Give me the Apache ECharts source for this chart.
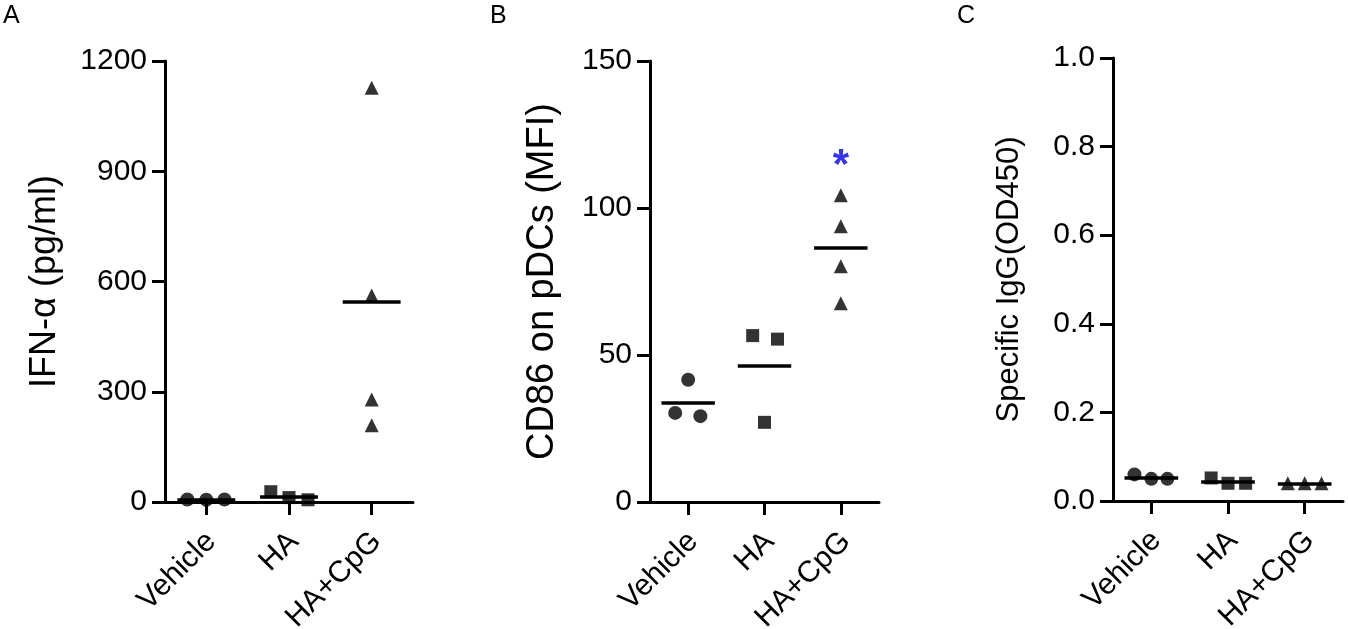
<!DOCTYPE html>
<html>
<head>
<meta charset="utf-8">
<script src="https://cdn.jsdelivr.net/npm/echarts@6/dist/echarts.min.js"></script>
<style>
html,body{margin:0;padding:0;background:#fff;}
#chart{width:1348px;height:629px;}
</style>
</head>
<body>
<div id="chart"></div>
<script>
// ---- data ----
const categories = ['Vehicle', 'HA', 'HA+CpG'];

// Panel A: IFN-alpha (pg/ml)
const ifnVehicle = [7, 6, 7];
const ifnHA = [28, 12, 6];
const ifnCpG = [1127, 562, 279, 209];
const ifnVehicleJitter = [-0.23, 0, 0.22];
const ifnHAJitter = [-0.22, 0, 0.23];
const ifnCpGJitter = [0, 0, 0, 0];
const ifnTicks = { min: 0, max: 1200, interval: 300 };

// Panel B: CD86 on pDCs (MFI)
const cd86Vehicle = [41.6, 30.3, 29.2];
const cd86HA = [56.6, 55.4, 27.1];
const cd86CpG = [104.3, 93.8, 80.2, 67.6];
const cd86VehicleJitter = [0, -0.17, 0.16];
const cd86HAJitter = [-0.155, 0.17, 0];
const cd86CpGJitter = [0, 0, 0, 0];
const cd86Ticks = { min: 0, max: 150, interval: 50 };
const cd86Significance = [[2, 114]];

// Panel C: Specific IgG (OD450)
const iggVehicle = [0.060, 0.050, 0.050];
const iggHA = [0.052, 0.040, 0.040];
const iggCpG = [0.040, 0.040, 0.040];
const iggVehicleJitter = [-0.22, 0, 0.21];
const iggHAJitter = [-0.22, 0, 0.23];
const iggCpGJitter = [-0.22, 0, 0.22];
const iggTicks = { min: 0, max: 1.0, interval: 0.2 };

const panelLetters = ['A', 'B', 'C'];
const yTitles = ['IFN-\u03b1 (pg/ml)', 'CD86 on pDCs (MFI)', 'Specific IgG(OD450)'];

// ---- layout / style ----
const FONT = '"Liberation Sans", Arial, Helvetica, sans-serif';
const grids = [
  { left: 165, top: 61, width: 248, height: 441, outerBoundsMode: 'none', containLabel: false },
  { left: 650, top: 61, width: 229, height: 441, outerBoundsMode: 'none', containLabel: false },
  { left: 1113, top: 58, width: 230, height: 443, outerBoundsMode: 'none', containLabel: false }
];
const nameGaps = [102, 88, 88];
const nameSizes = [36, 38, 31];
const letterLeft = [3, 490, 957];
const symbols = ['circle', 'rect', 'triangle'];
const symbolSizes = [14, 13, 14];
const MEAN_HALF = 0.35;

const panels = [
  { groups: [ifnVehicle, ifnHA, ifnCpG], jitter: [ifnVehicleJitter, ifnHAJitter, ifnCpGJitter], ticks: ifnTicks, fmt: v => String(v) },
  { groups: [cd86Vehicle, cd86HA, cd86CpG], jitter: [cd86VehicleJitter, cd86HAJitter, cd86CpGJitter], ticks: cd86Ticks, fmt: v => String(v) },
  { groups: [iggVehicle, iggHA, iggCpG], jitter: [iggVehicleJitter, iggHAJitter, iggCpGJitter], ticks: iggTicks, fmt: v => v.toFixed(1) }
];

const lineStyle = { color: '#000', width: 3 };
const xAxes = [], yAxes = [], series = [], titles = [];

panels.forEach((p, pi) => {
  xAxes.push({
    type: 'category', gridIndex: pi, data: categories, boundaryGap: true,
    axisLine: { show: true, onZero: false, lineStyle: lineStyle },
    axisTick: { show: true, alignWithLabel: true, length: 13, lineStyle: lineStyle },
    axisLabel: { rotate: 45, fontSize: 30, color: '#000', margin: 30, fontFamily: FONT, interval: 0,
                 verticalAlign: 'top', lineHeight: 14, hideOverlap: false },
    splitLine: { show: false }
  });
  xAxes.push({ type: 'value', gridIndex: pi, min: -0.5, max: 2.5, show: false, splitLine: { show: false } });
  yAxes.push({
    type: 'value', gridIndex: pi, min: p.ticks.min, max: p.ticks.max, interval: p.ticks.interval,
    name: yTitles[pi], nameLocation: 'middle', nameGap: nameGaps[pi],
    nameTextStyle: { fontSize: nameSizes[pi], color: '#000', fontFamily: FONT },
    axisLine: { show: true, onZero: false, lineStyle: lineStyle },
    axisTick: { show: true, length: 13, lineStyle: lineStyle },
    axisLabel: { fontSize: 30, color: '#000', margin: 18, fontFamily: FONT, formatter: p.fmt },
    splitLine: { show: false }
  });
  p.groups.forEach((vals, gi) => {
    const mean = vals.reduce((a, b) => a + b, 0) / vals.length;
    series.push({
      type: 'scatter', xAxisIndex: pi * 2 + 1, yAxisIndex: pi,
      symbol: symbols[gi], symbolSize: symbolSizes[gi],
      itemStyle: { color: '#000' },
      data: vals.map((v, k) => [gi + p.jitter[gi][k], v]),
      markLine: {
        silent: true, symbol: 'none', label: { show: false },
        lineStyle: { color: '#000', width: 3.5, type: 'solid' },
        data: [[{ coord: [gi - MEAN_HALF, mean] }, { coord: [gi + MEAN_HALF, mean] }]]
      },
      z: 3
    });
  });
  titles.push({ text: panelLetters[pi], left: letterLeft[pi], top: 4, padding: 0,
                textStyle: { fontSize: 25, fontWeight: 'normal', color: '#000', fontFamily: FONT } });
});

series.push({
  type: 'scatter', xAxisIndex: 3, yAxisIndex: 1,
  symbolSize: 1, itemStyle: { color: 'rgba(0,0,0,0)' },
  data: cd86Significance,
  label: { show: true, position: 'inside', formatter: '*', fontSize: 42, fontWeight: 'bold', color: '#0000ee', fontFamily: FONT }
});

const chart = echarts.init(document.getElementById('chart'));
chart.setOption({
  animation: false,
  backgroundColor: '#fff',
  title: titles,
  grid: grids,
  xAxis: xAxes,
  yAxis: yAxes,
  series: series
});
</script>
</body>
</html>
